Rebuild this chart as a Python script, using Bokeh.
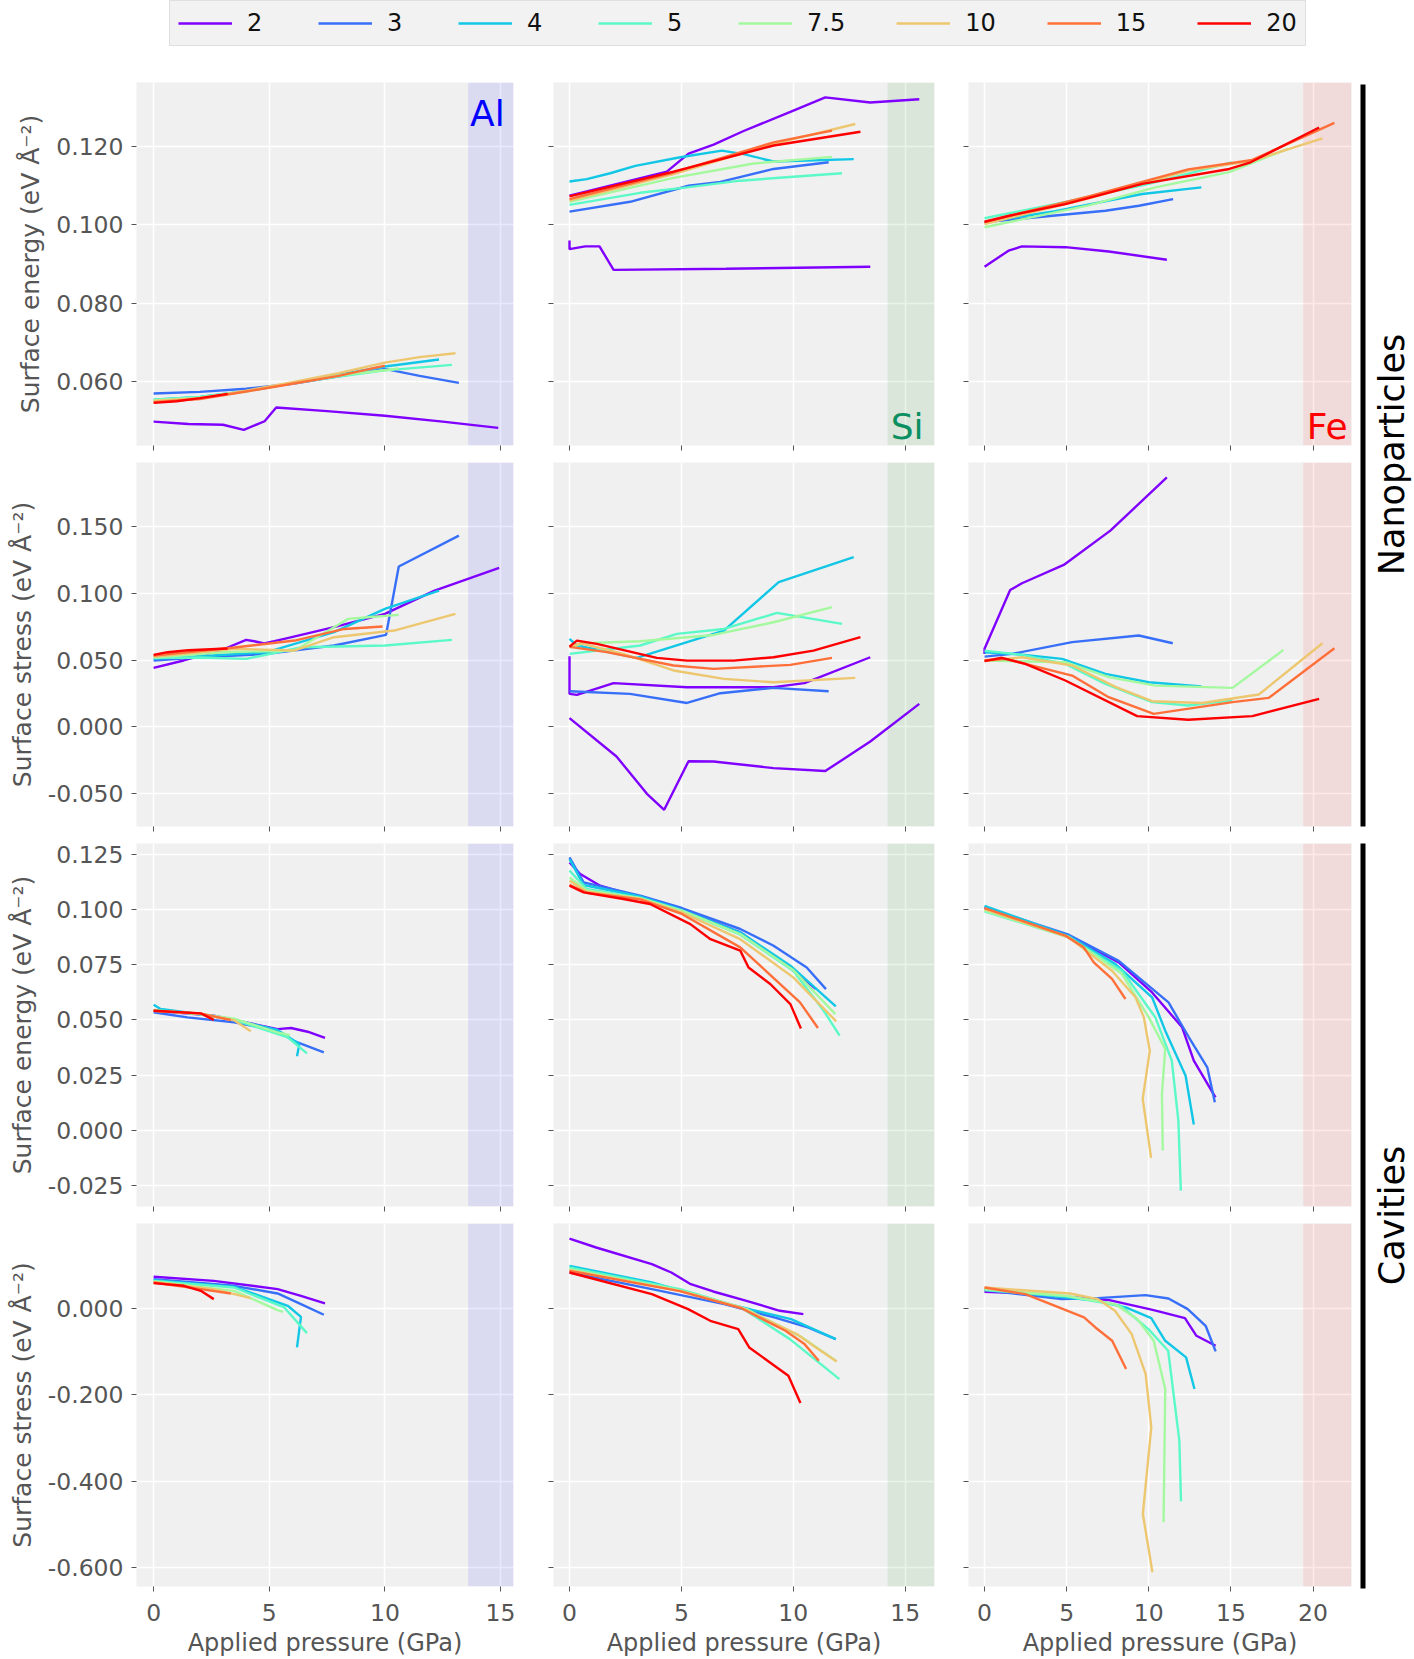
import math
from bokeh.plotting import figure
from bokeh.models import (Range1d, FixedTicker, PrintfTickFormatter, BoxAnnotation,
                          Label, Legend, LegendItem)
from bokeh.layouts import row, column
from bokeh.embed import file_html
from bokeh.resources import INLINE

NAN = float("nan")

# ---------------- data ----------------
SIZES = ["2", "3", "4", "5", "7.5", "10", "15", "20"]

# Nanoparticles - surface energy
AL_NP_ENERGY = {
    "2": ([0, 1.5, 3.0, 3.9, 4.8, 5.3, 7.5, 10.0, 12.5, 14.9],
          [0.0497, 0.0491, 0.0489, 0.0476, 0.0498, 0.0533, 0.0524, 0.0512, 0.0497, 0.0481]),
    "3": ([0, 2, 4, 6, 8, 10, 11.5, 13.2],
          [0.0569, 0.0573, 0.0581, 0.0594, 0.0613, 0.0632, 0.0614, 0.0596]),
    "4": ([0, 2, 4, 6, 8, 10, 12.34],
          [0.0553, 0.0560, 0.0575, 0.0595, 0.0617, 0.0638, 0.0656]),
    "5": ([0, 2, 4, 6, 8, 10, 12.9],
          [0.0553, 0.0560, 0.0575, 0.0595, 0.0612, 0.0628, 0.0642]),
    "7.5": ([0, 2, 4, 6, 8, 10.6],
            [0.0552, 0.0558, 0.0574, 0.0595, 0.0615, 0.0633]),
    "10": ([0, 2, 4, 6, 8, 10, 11.5, 13.05],
           [0.0550, 0.0557, 0.0576, 0.0598, 0.0621, 0.0648, 0.0662, 0.0672]),
    "15": ([0, 2, 4, 6, 8, 10],
           [0.0547, 0.0555, 0.0574, 0.0594, 0.0614, 0.0640]),
    "20": ([0, 1, 2, 3.2],
           [0.0545, 0.0549, 0.0557, 0.0568]),
}
SI_NP_ENERGY = {
    "2": ([0, 4.35, 5.32, 6.44, 7.78, 9.87, 11.43, 13.44, 15.63, NAN, 0, 0, 0.7, 1.34, 1.97, 7.0, 13.44],
          [0.1075, 0.1136, 0.1182, 0.1205, 0.1240, 0.1289, 0.1326, 0.1313, 0.1321, NAN,
           0.0960, 0.0938, 0.0945, 0.0945, 0.0885, 0.0888, 0.0893]),
    "3": ([0, 2.71, 5.32, 6.74, 9.12, 11.58],
          [0.1034, 0.1059, 0.1100, 0.1110, 0.1143, 0.1160]),
    "4": ([0, 0.77, 1.82, 2.94, 4.95, 6.81, 7.78, 9.12, 10.3, 12.7],
          [0.1111, 0.1117, 0.1132, 0.1151, 0.1173, 0.1190, 0.1181, 0.1162, 0.1164, 0.1168]),
    "5": ([0, 3.16, 5.25, 7.63, 10.0, 12.18],
          [0.1051, 0.1082, 0.1096, 0.1113, 0.1123, 0.1132]),
    "7.5": ([0, 4.65, 8.23, 11.73],
            [0.1059, 0.1120, 0.1157, 0.1174]),
    "10": ([0, 4.65, 9.12, 12.77],
           [0.1062, 0.1130, 0.1207, 0.1258]),
    "15": ([0, 4.65, 9.12, 11.73],
           [0.1066, 0.1134, 0.1211, 0.1241]),
    "20": ([0, 4.65, 9.12, 13.0],
           [0.1073, 0.1136, 0.1203, 0.1238]),
}
FE_NP_ENERGY = {
    "2": ([0, 1.46, 2.28, 4.92, 7.56, 11.1],
          [0.0893, 0.0934, 0.0945, 0.0943, 0.0932, 0.0911]),
    "3": ([0, 4.3, 7.36, 9.4, 11.48],
          [0.1007, 0.1024, 0.1036, 0.1049, 0.1066]),
    "4": ([0, 4.3, 9.6, 13.2],
          [0.1007, 0.1035, 0.1079, 0.1096]),
    "5": ([0, 4.3, 10.0, 15.04],
          [0.1017, 0.1053, 0.1105, 0.1160]),
    "7.5": ([0, 6.34, 10.4, 14.9, 16.5, 18.5],
            [0.0994, 0.1050, 0.1096, 0.1135, 0.1162, 0.1195]),
    "10": ([0, 6.34, 12.4, 16.3, 20.57],
           [0.1002, 0.1068, 0.1139, 0.1164, 0.1221]),
    "15": ([0, 6.34, 12.4, 16.3, 21.3],
           [0.1007, 0.1073, 0.1142, 0.1166, 0.1261]),
    "20": ([0, 1.56, 4.92, 9.6, 14.9, 16.2, 20.37],
           [0.1008, 0.1024, 0.1053, 0.1105, 0.1143, 0.1160, 0.1249]),
}

# Nanoparticles - surface stress
AL_NP_STRESS = {
    "2": ([0, 1.3, 3.0, 4.0, 4.35, 4.78, 5.65, 7.8, 10.0, 12.15, 14.94],
          [0.0443, 0.0498, 0.0580, 0.0652, 0.0642, 0.0625, 0.0660, 0.0747, 0.0847, 0.1021, 0.1191]),
    "3": ([0, 2.0, 4.9, 7.8, 10.05, 10.6, 13.2],
          [0.0497, 0.0522, 0.0547, 0.0610, 0.0690, 0.1201, 0.1433]),
    "4": ([0, 2, 4.9, 7.8, 10, 12.34],
          [0.0510, 0.0530, 0.0560, 0.0710, 0.0884, 0.1021]),
    "5": ([0, 2, 4.0, 6.4, 10, 12.9],
          [0.0517, 0.0520, 0.0510, 0.0597, 0.0610, 0.0652]),
    "7.5": ([0, 3, 6.1, 8.4, 9.26, 10.6],
            [0.0520, 0.0560, 0.0573, 0.0809, 0.0822, 0.0839]),
    "10": ([0, 3.5, 6.1, 7.8, 10.4, 13.05],
           [0.0525, 0.0585, 0.0573, 0.0672, 0.0722, 0.0847]),
    "15": ([0, 3.5, 6.1, 8.25, 9.9],
           [0.0535, 0.0595, 0.0647, 0.0734, 0.0752]),
    "20": ([0, 0.6, 1.5, 3.2],
           [0.0540, 0.0560, 0.0575, 0.0588]),
}
SI_NP_STRESS = {
    "2": ([0, 2.1, 3.46, 4.23, 5.32, 6.44, 9.12, 11.43, 13.44, 15.63, NAN,
           0, 0, 0.33, 1.97, 5.25, 9.12, 10.5, 13.44],
          [0.0066, -0.0221, -0.050, -0.062, -0.0256, -0.0258, -0.0308, -0.033, -0.0109, 0.0173, NAN,
           0.053, 0.0248, 0.024, 0.0328, 0.0298, 0.0298, 0.0328, 0.0522]),
    "3": ([0, 2.7, 5.25, 6.74, 9.12, 11.58],
          [0.0268, 0.0248, 0.018, 0.0253, 0.0293, 0.0268]),
    "4": ([0, 0.33, 3.0, 6.9, 9.35, 12.7],
          [0.066, 0.061, 0.0517, 0.0722, 0.1084, 0.1271]),
    "5": ([0, 3.16, 4.8, 6.9, 9.27, 12.18],
          [0.0547, 0.061, 0.0697, 0.0734, 0.0854, 0.0772]),
    "7.5": ([0, 0.63, 3.16, 6.44, 9.12, 11.73],
            [0.0597, 0.0627, 0.0642, 0.0689, 0.0784, 0.0897]),
    "10": ([0, 0.5, 2.4, 4.65, 6.9, 9.12, 12.77],
           [0.060, 0.0627, 0.0547, 0.0423, 0.036, 0.0335, 0.0368]),
    "15": ([0, 1.67, 4.65, 6.44, 9.87, 11.73],
           [0.060, 0.056, 0.046, 0.0435, 0.0465, 0.0517]),
    "20": ([0, 0.33, 1.22, 3.9, 5.25, 7.33, 9.12, 10.9, 13.0],
           [0.0602, 0.0647, 0.0622, 0.0517, 0.0497, 0.0497, 0.0522, 0.0572, 0.0672]),
}
FE_NP_STRESS = {
    "2": ([0, 0, 1.56, 2.28, 4.82, 7.66, 9.39, 11.1],
          [0.0547, 0.0585, 0.1026, 0.1076, 0.1213, 0.147, 0.167, 0.1869]),
    "3": ([0, 1.67, 5.33, 9.39, 11.46],
          [0.0527, 0.0547, 0.0635, 0.0685, 0.0627]),
    "4": ([0, 2.28, 4.72, 7.36, 10.0, 13.2],
          [0.056, 0.0542, 0.051, 0.0398, 0.0335, 0.0303]),
    "5": ([0, 2.28, 4.92, 7.36, 10.2, 12.4, 15.1],
          [0.0572, 0.0540, 0.0473, 0.0323, 0.0186, 0.0161, 0.0200]),
    "7.5": ([0, 4.92, 7.56, 10.4, 15.1, 18.2],
            [0.0497, 0.0485, 0.0373, 0.031, 0.0293, 0.0577]),
    "10": ([0, 2.28, 5.33, 8.0, 10.2, 13.25, 16.7, 20.57],
           [0.0493, 0.0522, 0.046, 0.0298, 0.0193, 0.018, 0.0243, 0.0627]),
    "15": ([0, 1.26, 5.33, 7.56, 10.3, 15.1, 17.3, 21.3],
           [0.050, 0.051, 0.0385, 0.0223, 0.0098, 0.0186, 0.0218, 0.059]),
    "20": ([0, 1.06, 2.48, 4.92, 9.29, 12.4, 16.3, 20.37],
           [0.0493, 0.0518, 0.0473, 0.0348, 0.0081, 0.0054, 0.0081, 0.0211]),
}

# Cavities - surface energy
AL_CAV_ENERGY = {
    "2": ([0, 2.6, 5.36, 5.94, 6.66, 7.41],
          [0.0541, 0.0519, 0.0458, 0.0463, 0.0446, 0.0418]),
    "3": ([0, 1.46, 3.48, 5.36, 6.08, 7.36],
          [0.0534, 0.0511, 0.0489, 0.0451, 0.0403, 0.0353]),
    "4": ([0, 0.3, 2, 3.48, 5.36, 6.3, 6.2],
          [0.0568, 0.0549, 0.0525, 0.0500, 0.0454, 0.0390, 0.0335]),
    "5": ([0, 2, 3.48, 5.8, 6.63],
          [0.0545, 0.0525, 0.0500, 0.0421, 0.0348]),
    "7.5": ([0, 2, 3.48, 5.36, 5.9],
            [0.0542, 0.0527, 0.0505, 0.0443, 0.0430]),
    "10": ([0, 2, 3.48, 4.2],
           [0.0541, 0.0527, 0.0498, 0.0448]),
    "15": ([0, 2, 3.34],
           [0.0541, 0.0529, 0.0499]),
    "20": ([0, 2.04, 2.6],
           [0.0541, 0.0529, 0.0500]),
}
SI_CAV_ENERGY = {
    "2": ([0, 0.48, 1.37, 3.16, 5.02, 7.63, 9.72, 11.0],
          [0.1212, 0.116, 0.1107, 0.1054, 0.1000, 0.0896, 0.0745, 0.0640]),
    "3": ([0, 0.63, 3.16, 5.02, 7.63, 9.12, 10.6, 11.46],
          [0.1235, 0.1122, 0.1062, 0.1006, 0.0911, 0.0835, 0.0737, 0.0639]),
    "4": ([0, 0.63, 3.16, 5.02, 7.63, 9.87, 11.9],
          [0.1227, 0.1110, 0.1058, 0.0997, 0.0896, 0.0745, 0.0561]),
    "5": ([0, 0.77, 3.16, 5.02, 7.63, 10.0, 11.36, 12.07],
          [0.1175, 0.1092, 0.1052, 0.0994, 0.0885, 0.0722, 0.0541, 0.0428]),
    "7.5": ([0, 0.77, 3.16, 5.02, 7.63, 10.0, 11.88],
            [0.1144, 0.1085, 0.1050, 0.0994, 0.0888, 0.0725, 0.0526]),
    "10": ([0, 0.77, 3.16, 5.02, 7.63, 10.0, 11.92],
           [0.1129, 0.1080, 0.1048, 0.0986, 0.0865, 0.0692, 0.0493]),
    "15": ([0, 0.77, 3.16, 5.02, 7.63, 10.3, 11.1],
           [0.1111, 0.1075, 0.1045, 0.0979, 0.0828, 0.0579, 0.0463]),
    "20": ([0, 0.63, 2.41, 3.6, 5.4, 6.3, 7.63, 8.0, 8.97, 9.87, 10.34],
           [0.1107, 0.1077, 0.1047, 0.1024, 0.0933, 0.0865, 0.0813, 0.0737, 0.0662, 0.0571, 0.0461]),
}
FE_CAV_ENERGY = {
    "2": ([0, 5.12, 8.17, 10.2, 12.03, 12.74, 14.06],
          [0.1006, 0.0881, 0.0760, 0.0624, 0.0466, 0.0315, 0.0149]),
    "3": ([0, 5.12, 8.17, 11.2, 12.44, 13.56, 14.02],
          [0.1009, 0.0885, 0.0767, 0.0579, 0.0421, 0.0285, 0.0127]),
    "4": ([0, 5.12, 7.97, 10.2, 11.0, 12.24, 12.74],
          [0.1016, 0.0879, 0.0752, 0.0602, 0.0451, 0.0247, 0.0026]),
    "5": ([0, 5.12, 8.37, 10.4, 11.4, 11.8, 11.95],
          [0.0991, 0.0873, 0.0722, 0.0511, 0.0315, 0.0044, -0.0273]),
    "7.5": ([0, 5.12, 8.37, 10.0, 11.0, 10.8, 10.85],
            [0.0994, 0.0875, 0.0707, 0.0511, 0.0368, 0.0164, -0.0092]),
    "10": ([0, 5.12, 7.76, 9.19, 9.7, 10.06, 9.63, 10.14],
           [0.1001, 0.0873, 0.0722, 0.0602, 0.0511, 0.0360, 0.0142, -0.0125]),
    "15": ([0, 4.92, 6.04, 6.65, 7.76, 8.58],
           [0.1006, 0.0881, 0.0828, 0.0760, 0.0685, 0.0594]),
    "20": ([], []),
}

# Cavities - surface stress
AL_CAV_STRESS = {
    "2": ([0, 2.6, 5.36, 6.37, 7.41],
          [0.0732, 0.0639, 0.0447, 0.0293, 0.0116]),
    "3": ([0, 3.48, 5.36, 6.37, 7.36],
          [0.0678, 0.0524, 0.0347, 0.0100, -0.0146]),
    "4": ([0, 3.48, 5.8, 6.37, 6.2],
          [0.0655, 0.0500, 0.0062, -0.0193, -0.0901]),
    "5": ([0, 3.48, 5.65, 6.63],
          [0.0639, 0.0485, 0.0023, -0.057]),
    "7.5": ([0, 3.48, 5.36, 5.6],
            [0.0624, 0.0408, -0.0039, -0.0080]),
    "10": ([0, 2.6, 4.2],
           [0.0616, 0.0447, 0.0239]),
    "15": ([0, 2.04, 3.34],
           [0.0600, 0.0447, 0.0347]),
    "20": ([0, 1.31, 2.04, 2.6],
           [0.0585, 0.0524, 0.0408, 0.0216]),
}
SI_CAV_STRESS = {
    "2": ([0, 1.19, 3.68, 4.55, 5.42, 6.42, 7.91, 9.4, 10.45],
          [0.1617, 0.141, 0.1024, 0.0832, 0.0562, 0.0393, 0.0177, -0.0054, -0.0131]),
    "3": ([0, 3.68, 6.92, 9.15, 10.65, 11.9],
          [0.0832, 0.0447, 0.0100, -0.0208, -0.0439, -0.0709]),
    "4": ([0, 3.68, 7.41, 9.9, 11.9],
          [0.0986, 0.0600, 0.0062, -0.0246, -0.0709]),
    "5": ([0, 4.93, 7.66, 9.85, 12.06],
          [0.0947, 0.0447, 0.0023, -0.0709, -0.1633]),
    "7.5": ([0, 4.93, 7.91, 10.4, 11.9],
            [0.0909, 0.0420, -0.0015, -0.0670, -0.1209]),
    "10": ([0, 4.93, 7.66, 10.15, 10.9, 11.94],
           [0.0886, 0.0408, 0.0023, -0.0593, -0.0863, -0.1224]),
    "15": ([0, 4.93, 7.66, 9.65, 10.5, 11.14],
           [0.0870, 0.0400, 0.0010, -0.0516, -0.0824, -0.1209]),
    "20": ([0, 3.68, 5.3, 6.29, 7.54, 8.03, 9.78, 10.32],
           [0.0832, 0.0331, -0.0015, -0.0285, -0.0477, -0.0901, -0.1556, -0.2187]),
}
FE_CAV_STRESS = {
    "2": ([0, 2.49, 7.6, 10.3, 12.2, 12.9, 14.07],
          [0.0385, 0.0347, 0.0193, -0.0039, -0.0223, -0.0632, -0.0863]),
    "3": ([0, 4.7, 6.9, 9.8, 11.2, 12.37, 13.46, 14.07],
          [0.0424, 0.0216, 0.0239, 0.0308, 0.0231, -0.0015, -0.0400, -0.0993]),
    "4": ([0, 6.9, 8.6, 10.15, 11.0, 12.27, 12.78],
          [0.0447, 0.0177, 0.0023, -0.0223, -0.0747, -0.1132, -0.1864]),
    "5": ([0, 5.0, 8.28, 9.98, 11.18, 11.86, 11.96],
          [0.0424, 0.0280, 0.0062, -0.0477, -0.0978, -0.3057, -0.4459]),
    "7.5": ([0, 5.0, 7.94, 9.3, 10.3, 11.0, 10.9],
            [0.0447, 0.0290, 0.0100, -0.0246, -0.0747, -0.1864, -0.4944]),
    "10": ([0, 5.2, 6.9, 7.94, 8.96, 9.81, 10.15, 9.64, 10.22],
           [0.0485, 0.0347, 0.0216, -0.0054, -0.0593, -0.1517, -0.2749, -0.4752, -0.6099]),
    "15": ([0, 2.49, 6.06, 6.75, 7.77, 8.62],
           [0.0485, 0.0331, -0.0208, -0.0439, -0.0747, -0.1402]),
    "20": ([], []),
}

PANELS = [
    [AL_NP_ENERGY, SI_NP_ENERGY, FE_NP_ENERGY],
    [AL_NP_STRESS, SI_NP_STRESS, FE_NP_STRESS],
    [AL_CAV_ENERGY, SI_CAV_ENERGY, FE_CAV_ENERGY],
    [AL_CAV_STRESS, SI_CAV_STRESS, FE_CAV_STRESS],
]

ELEMENTS = ["Al", "Si", "Fe"]
X_TICKS = [[0, 5, 10, 15], [0, 5, 10, 15], [0, 5, 10, 15, 20]]
Y_TICKS = [
    [0.060, 0.080, 0.100, 0.120],
    [-0.050, 0.000, 0.050, 0.100, 0.150],
    [-0.025, 0.000, 0.025, 0.050, 0.075, 0.100, 0.125],
    [-0.600, -0.400, -0.200, 0.000],
]
Y_LABELS = ["Surface energy (eV Å⁻²)", "Surface stress (eV Å⁻²)",
            "Surface energy (eV Å⁻²)", "Surface stress (eV Å⁻²)"]
X_LABEL = "Applied pressure (GPa)"
BAND_START = [13.6, 14.21, 19.4]
GROUP_LABELS = ["Nanoparticles", "Cavities"]

# ---------------- styling ----------------
COLORS = ["#8000ff", "#376ff9", "#12c7e6", "#5bf9c7", "#a4f99f", "#edc76f", "#ff6f39", "#ff0000"]
BAND_COLORS = ["blue", "green", "red"]
ELEM_COLORS = ["blue", "#0a9060", "red"]
# element label anchors (right edge, vertical centre of text box) in data units of row 0
ELEM_POS = [(15.18, 0.1286), (15.82, 0.0485), (22.1, 0.0485)]
X_RANGES = [(-0.74, 15.56), (-0.715, 16.31), (-0.976, 22.34)]
Y_RANGES = [(0.0436, 0.1364), (-0.0745, 0.198), (-0.0345, 0.1298), (-0.643, 0.1965)]
FRAME_W = [377, 381, 383]
FRAME_H = [363, 364, 363, 363]
BORDER_L = [136, 20, 26]
BORDER_R = [20, 8, 4]
BORDER_T = [22, 9, 9, 9]
BORDER_B = [8, 8, 8, 73]
FONT = "DejaVu Sans"
GRAYTXT = "#555555"
PANEL_BG = "#f0f0f0"

figs = []
for r in range(4):
    row_figs = []
    for c in range(3):
        p = figure(frame_width=FRAME_W[c], frame_height=FRAME_H[r],
                   min_border_left=BORDER_L[c], min_border_right=BORDER_R[c],
                   min_border_top=BORDER_T[r], min_border_bottom=BORDER_B[r],
                   x_range=Range1d(*X_RANGES[c]), y_range=Range1d(*Y_RANGES[r]),
                   output_backend="svg", toolbar_location=None)
        p.background_fill_color = PANEL_BG
        p.border_fill_color = "white"
        p.outline_line_color = None

        for ax in (p.xaxis[0], p.yaxis[0]):
            ax.axis_line_color = None
            ax.major_tick_line_color = GRAYTXT
            ax.major_tick_line_width = 1
            ax.major_tick_out = 5
            ax.major_tick_in = 0
            ax.minor_tick_line_color = None
            ax.major_label_text_font = FONT
            ax.major_label_text_font_size = "23.5px"
            ax.major_label_text_color = GRAYTXT
            ax.axis_label_text_font = FONT
            ax.axis_label_text_color = GRAYTXT
            ax.axis_label_text_font_style = "normal"

        xa = p.xaxis[0]
        xa.ticker = FixedTicker(ticks=X_TICKS[c])
        xa.formatter = PrintfTickFormatter(format="%d")
        if r == 3:
            xa.major_label_standoff = 12
            xa.axis_label = X_LABEL
            xa.axis_label_text_font_size = "24px"
            xa.axis_label_standoff = 5
        else:
            xa.major_label_text_color = None
            xa.major_label_standoff = 0

        ya = p.yaxis[0]
        ya.ticker = FixedTicker(ticks=Y_TICKS[r])
        ya.formatter = PrintfTickFormatter(format="%.3f")
        if c == 0:
            ya.major_label_standoff = 8
            ya.axis_label = Y_LABELS[r]
            ya.axis_label_text_font_size = "25px"
            ya.axis_label_standoff = 8
        else:
            ya.major_label_text_color = None
            ya.major_label_standoff = 0

        for g in (p.xgrid[0], p.ygrid[0]):
            g.grid_line_color = "white"
            g.grid_line_width = 1.6

        p.add_layout(BoxAnnotation(left=BAND_START[c], fill_color=BAND_COLORS[c],
                                   fill_alpha=0.09, line_color=None, level="underlay"))

        data = PANELS[r][c]
        for s, col in zip(SIZES, COLORS):
            xs, ys = data[s]
            if len(xs):
                p.line(xs, ys, line_color=col, line_width=2.4)

        if r == 0:
            ex, ey = ELEM_POS[c]
            p.add_layout(Label(x=ex, y=ey, text=ELEMENTS[c], text_color=ELEM_COLORS[c],
                               text_font=FONT, text_font_size="36px",
                               text_align="right", text_baseline="middle"))
        row_figs.append(p)
    figs.append(row_figs)

# ---------------- legend strip ----------------
leg = figure(frame_width=1414, frame_height=60, min_border=0,
             x_range=Range1d(0, 1), y_range=Range1d(0, 1),
             x_axis_type=None, y_axis_type=None,
             output_backend="svg", toolbar_location=None)
leg.outline_line_color = None
items = []
for s, col in zip(SIZES, COLORS):
    rr = leg.line([5, 6], [5, 6], line_color=col, line_width=2.4)
    items.append(LegendItem(label=s, renderers=[rr]))
legend = Legend(items=items, orientation="horizontal", location=(169, 14),
                glyph_width=54, glyph_height=20, label_standoff=15, spacing=51,
                padding=8, margin=0,
                label_text_font=FONT, label_text_font_size="24px", label_text_color="#111111",
                background_fill_color="#f2f2f2", background_fill_alpha=1.0,
                border_line_color="#cccccc", border_line_width=1.5)
leg.add_layout(legend)

# ---------------- right-hand group labels ----------------
rf = figure(frame_width=59, frame_height=1599, min_border=0,
            x_range=Range1d(1355, 1414), y_range=Range1d(1659, 60),
            x_axis_type=None, y_axis_type=None,
            output_backend="svg", toolbar_location=None)
rf.outline_line_color = None
rf.add_layout(BoxAnnotation(left=1360, right=1365, top=84, bottom=826,
                            fill_color="black", fill_alpha=1.0, line_color=None))
rf.add_layout(BoxAnnotation(left=1360, right=1365, top=843, bottom=1588,
                            fill_color="black", fill_alpha=1.0, line_color=None))
rf.add_layout(Label(x=1391, y=454, text=GROUP_LABELS[0], angle=math.pi / 2,
                    text_align="center", text_baseline="middle",
                    text_font=FONT, text_font_size="35px", text_color="black"))
rf.add_layout(Label(x=1391, y=1215, text=GROUP_LABELS[1], angle=math.pi / 2,
                    text_align="center", text_baseline="middle",
                    text_font=FONT, text_font_size="35px", text_color="black"))

grid = column(*[row(*rf_) for rf_ in figs])
layout = column(leg, row(grid, rf))

open("out.html", "w").write(file_html(layout, INLINE))
